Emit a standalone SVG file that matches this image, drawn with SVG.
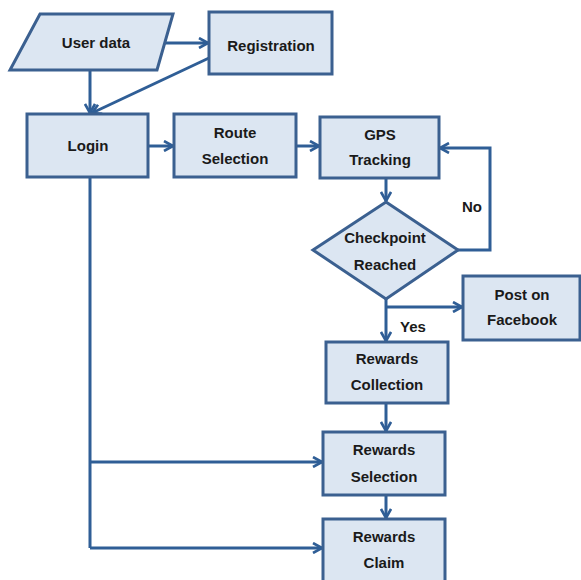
<svg xmlns="http://www.w3.org/2000/svg" width="581" height="580" viewBox="0 0 581 580">
<defs>
<style>
.n{fill:#dce6f2;stroke:#3b6090;stroke-width:3}
.c{fill:none;stroke:#2f5e96;stroke-width:3;marker-end:url(#a)}
.l{fill:none;stroke:#2f5e96;stroke-width:3}
text{font-family:"Liberation Sans",Arial,sans-serif;font-weight:bold;font-size:15px;fill:#1a1a1a;text-anchor:middle}
</style>
<marker id="a" viewBox="0 0 12 12" refX="11" refY="6" markerWidth="12" markerHeight="12" markerUnits="userSpaceOnUse" orient="auto">
<path d="M2,1 L11,6 L2,11" fill="none" stroke="#2f5e96" stroke-width="2.6"/>
</marker>
</defs>
<rect width="581" height="580" fill="#fff"/>
<g id="connectors">
<path class="c" d="M158,43 H208"/>
<path class="c" d="M90,70 V113"/>
<path class="c" d="M209,58 L92,113"/>
<path class="c" d="M148,146 H173"/>
<path class="c" d="M296,146 H319"/>
<path class="c" d="M386,178 V201"/>
<path class="c" d="M458,250 H490 V148 H440"/>
<path class="c" d="M386,299 V341"/>
<path class="c" d="M386,307 H462"/>
<path class="c" d="M386,403 V431"/>
<path class="c" d="M386,495 V518"/>
<path class="l" d="M90,177 V548"/>
<path class="c" d="M90,462 H322"/>
<path class="c" d="M90,548 H322"/>
<text x="472" y="212">No</text>
<text x="413" y="332">Yes</text>
</g>
<g id="userdata"><polygon class="n" points="40,14 173,14 157,70 10,70"/><text x="96" y="48">User data</text></g>
<g id="registration"><rect class="n" x="209" y="12" width="123" height="62"/><text x="271" y="51">Registration</text></g>
<g id="login"><rect class="n" x="27" y="114" width="121" height="63"/><text x="88" y="151">Login</text></g>
<g id="route"><rect class="n" x="174" y="114" width="122" height="63"/><text x="235" y="138">Route</text><text x="235" y="164">Selection</text></g>
<g id="gps"><rect class="n" x="320" y="117" width="119" height="61"/><text x="380" y="140">GPS</text><text x="380" y="165">Tracking</text></g>
<g id="checkpoint"><polygon class="n" points="386,202 458,250 386,299 313,250"/><text x="385" y="243">Checkpoint</text><text x="385" y="270">Reached</text></g>
<g id="facebook"><rect class="n" x="463" y="276" width="117" height="64"/><text x="522" y="300">Post on</text><text x="522" y="325">Facebook</text></g>
<g id="collection"><rect class="n" x="326" y="342" width="122" height="61"/><text x="387" y="364">Rewards</text><text x="387" y="390">Collection</text></g>
<g id="selection"><rect class="n" x="323" y="432" width="122" height="63"/><text x="384" y="455">Rewards</text><text x="384" y="482">Selection</text></g>
<g id="claim"><rect class="n" x="323" y="519" width="122" height="64"/><text x="384" y="542">Rewards</text><text x="384" y="568">Claim</text></g>
</svg>
